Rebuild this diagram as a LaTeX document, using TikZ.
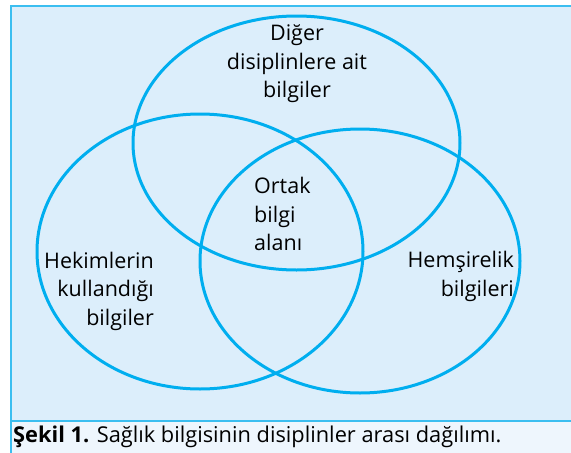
\documentclass[tikz,border=0pt]{standalone}
\usepackage{fontspec}
\setmainfont{Open Sans}
\definecolor{bluebg}{HTML}{DCEEFB}
\definecolor{capbg}{HTML}{EEF6FD}
\definecolor{framec}{HTML}{3BBEF0}
\definecolor{ringc}{HTML}{00AEEF}
\begin{document}
\begin{tikzpicture}[x=1pt,y=-1pt,
  ring/.style={draw=ringc,line width=3pt},
  frameline/.style={draw=framec,line width=2pt},
  lbl/.style={inner sep=0pt,text=black,font=\fontsize{21.5}{28.5}\selectfont},
  captext/.style={inner sep=0pt,text=black,font=\fontsize{21.8}{24}\selectfont}]
\useasboundingbox (0,0) rectangle (571,453);
\fill[white] (0,0) rectangle (571,453);
\fill[capbg] (11,421) rectangle (571,453);
\fill[bluebg] (11,6) rectangle (571,421);
\draw[frameline] (571,6) -- (11,6) -- (11,453);
\draw[frameline] (11,421) -- (571,421);
\draw[ring] (296.5,143) ellipse [x radius=163.5, y radius=127];
\draw[ring] (200,251.5) ellipse [x radius=163, y radius=137.5];
\draw[ring] (360,261) ellipse [x radius=160, y radius=132];
\node[lbl,align=center] (diger) at (297,64) {Diğer\\disiplinlere ait\\bilgiler};
\node[lbl,align=left,anchor=west] (ortak) at (254,214) {Ortak\\bilgi\\alanı};
\node[lbl,align=right,anchor=east] (hekim) at (154,291) {Hekimlerin\\kullandığı\\bilgiler};
\node[lbl,align=right,anchor=east] (hemsire) at (514,276.5) {Hemşirelik\\bilgileri};
\node[captext,anchor=west] (caption) at (13,437) {\textbf{Şekil 1.} Sağlık bilgisinin disiplinler arası dağılımı.};
\end{tikzpicture}
\end{document}
